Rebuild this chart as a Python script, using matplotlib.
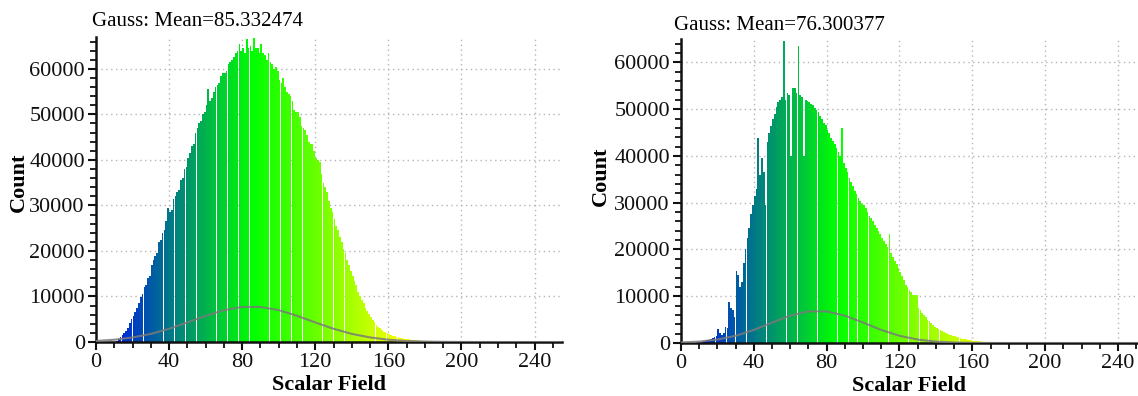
import numpy as np
import matplotlib
matplotlib.use("Agg")
import matplotlib.pyplot as plt
from matplotlib.colors import LinearSegmentedColormap
from matplotlib.ticker import MultipleLocator

# ---------------- data (1-unit bins starting at 0) ----------------
bin_width = 1
left_counts = [
    0, 0, 0, 0, 0, 0, 0, 0, 0, 0,
    100, 300, 700, 1200, 1600, 2000, 2500, 3000, 4200, 5000,
    5800, 6500, 7500, 8500, 9800, 10500, 12000, 12500, 14000, 14500,
    17000, 18000, 19000, 19500, 22000, 22500, 24000, 24500, 26500, 29500,
    28500, 29000, 31500, 32000, 33000, 33500, 35500, 36000, 38000, 38500,
    40500, 41500, 43000, 43500, 46000, 47000, 48000, 48500, 50000, 50500,
    52000, 55500, 53000, 53500, 55000, 56000, 56500, 57000, 58500, 59000,
    59000, 59500, 61000, 61500, 62000, 62500, 63500, 64000, 65500, 64000,
    64500, 63500, 66500, 64500, 65000, 64000, 66800, 64500, 64500, 63500,
    65500, 63500, 63000, 62000, 63500, 61500, 61000, 60000, 60500, 59500,
    57500, 57000, 58000, 56000, 55000, 54500, 54000, 53000, 51000, 50500,
    50500, 49500, 47500, 47000, 46500, 45500, 44000, 43500, 43500, 42000,
    40500, 40000, 39500, 37000, 35000, 34000, 33000, 31000, 29500, 28500,
    27000, 25500, 24500, 23000, 22000, 20500, 19500, 18000, 17000, 15500,
    14500, 13500, 12500, 11000, 10000, 9200, 8500, 7500, 6800, 6100,
    5500, 4900, 4300, 3800, 3400, 3000, 2600, 2300, 2100, 1900,
    1700, 1550, 1400, 1250, 1100, 1000, 900, 820, 750, 680,
    600, 550, 500, 460, 420, 380, 350, 320, 290, 260,
    240, 220, 200, 185, 170, 155, 140, 130, 120, 110,
    100, 90, 80, 70, 60, 55, 50, 45, 40, 35,
    30,
]
right_counts = [
    0, 10, 20, 30, 50, 60, 80, 100, 130, 150,
    200, 250, 350, 450, 600, 700, 900, 1000, 1300, 1500,
    3000, 2200, 1800, 2200, 3500, 3300, 8800, 7500, 7000, 5500,
    15500, 14500, 12000, 13000, 17000, 20000, 22500, 24500, 27500, 29500,
    31500, 33000, 43800, 36000, 39500, 36500, 29500, 43000, 45000, 46500,
    48000, 49000, 50500, 51500, 52000, 52500, 64500, 52000, 53500, 53000,
    40000, 54500, 54500, 53500, 63500, 53000, 52500, 40000, 52000, 51800,
    51500, 51200, 50800, 50300, 49800, 49400, 48500, 47800, 47000, 46600,
    45500, 44800, 43800, 43200, 42500, 41600, 40800, 40000, 46000, 38500,
    37500, 36500, 35300, 34500, 33500, 32500, 31800, 31000, 30300, 29800,
    29600, 28800, 28000, 27200, 26800, 26000, 25200, 24500, 24000, 23200,
    22500, 21800, 21200, 20500, 23300, 19200, 18300, 17600, 16800, 16000,
    15200, 14300, 13400, 12500, 12000, 11300, 10800, 10300, 10200, 10300,
    7500, 7000, 6400, 6000, 5500, 5000, 4600, 4200, 3800, 3500,
    3200, 3000, 2700, 2500, 2300, 2100, 1950, 1800, 1650, 1500,
    1400, 1300, 1200, 1050, 950, 850, 780, 700, 620, 560,
    500, 460, 420, 380, 350, 320, 300, 280, 260, 250,
    220, 200, 180, 160, 140, 120, 110, 100, 85, 70,
    60, 50, 40, 30, 25, 20,
]
gauss_x = [0, 10, 20, 30, 40, 50, 60, 70, 80, 90, 100, 110, 120, 130, 140,
           150, 160, 170, 180, 190, 200, 210, 230, 255]
left_gauss = [230, 500, 1000, 1780, 2900, 4300, 5750, 7000, 7700, 7700, 7000,
              5750, 4300, 2900, 1780, 1000, 500, 230, 95, 35, 12, 0, 0, 0]
right_gauss = [110, 300, 740, 1540, 2790, 4370, 5840, 6770, 6770, 5840, 4370,
               2790, 1540, 740, 300, 110, 35, 10, 0, 0, 0, 0, 0, 0]
titles = ["Gauss: Mean=85.332474", "Gauss: Mean=76.300377"]
x_ticks = [0, 40, 80, 120, 160, 200, 240]
y_ticks = [0, 10000, 20000, 30000, 40000, 50000, 60000]

# ---------------- style ----------------
plt.rcParams['font.family'] = ['Liberation Serif', 'DejaVu Serif']
cmap = LinearSegmentedColormap.from_list(
    "bgyr", ["#0000ff", "#00ff00", "#ffff00", "#ff0000"])

fig = plt.figure(figsize=(11.38, 3.96), dpi=100)

panels = [
    dict(counts=left_counts, gauss=left_gauss, title=titles[0],
         rect=[96 / 1138, 54 / 396, 466 / 1138, 305 / 396], xlim=(0, 255), ylim=(0, 67000),
         title_xy=(92 / 1138, 1 - 21 / 396), ylab_x=19 / 1138, ylab_y=1 - 182 / 396),
    dict(counts=right_counts, gauss=right_gauss, title=titles[1],
         rect=[681 / 1138, 53 / 396, 457 / 1138, 304 / 396], xlim=(0, 251), ylim=(0, 65000),
         title_xy=(674 / 1138, 1 - 26 / 396), ylab_x=601 / 1138, ylab_y=1 - 176 / 396),
]

for p in panels:
    ax = fig.add_axes(p["rect"])
    counts = np.array(p["counts"], dtype=float)
    lefts = np.arange(len(counts)) * bin_width
    colors = cmap((lefts + bin_width / 2) / 255.0)
    ax.bar(lefts, counts, width=bin_width * 0.93, color=colors,
           linewidth=0, align="edge", zorder=2)
    ax.plot(gauss_x, p["gauss"], color="#7a7a7a", lw=1.5, alpha=0.85, zorder=3)

    ax.set_xlim(*p["xlim"])
    ax.set_ylim(*p["ylim"])
    ax.set_xticks(x_ticks)
    ax.set_yticks(y_ticks)
    ax.xaxis.set_minor_locator(MultipleLocator(10))
    ax.yaxis.set_minor_locator(MultipleLocator(2000))
    ax.grid(True, which="major", linestyle=(0, (1, 2.5)), color="#b5b5b5",
            linewidth=1.0, zorder=0)
    ax.set_axisbelow(True)
    for s in ["top", "right"]:
        ax.spines[s].set_visible(False)
    for s in ["left", "bottom"]:
        ax.spines[s].set_linewidth(1.8)
        ax.spines[s].set_color("#111111")
    ax.tick_params(which="major", direction="out", length=6, width=1.5,
                   labelsize=16, colors="#111111", pad=2)
    ax.tick_params(which="minor", direction="out", length=4, width=1.3,
                   colors="#111111")
    ax.set_xlabel("Scalar Field", fontsize=16, fontweight="bold", labelpad=2)
    fig.text(p["ylab_x"], p["ylab_y"], "Count", fontsize=16, fontweight="bold",
             rotation=90, ha="center", va="center")
    fig.text(p["title_xy"][0], p["title_xy"][1], p["title"], fontsize=15,
             ha="left", va="center")

fig.savefig("out.png", dpi=100)
